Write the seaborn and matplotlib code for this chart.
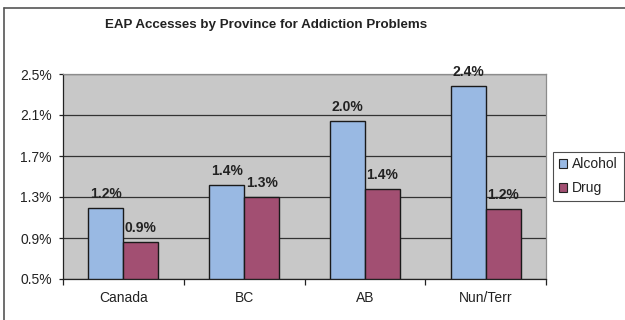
import matplotlib
matplotlib.use("Agg")
import matplotlib.pyplot as plt
import seaborn as sns
import pandas as pd
import numpy as np
from matplotlib.lines import Line2D
from matplotlib.patches import Patch
from matplotlib.ticker import FixedLocator, FuncFormatter

# Share of EAP accesses for addiction problems, by province (percent)
provinces = ["Canada", "BC", "AB", "Nun/Terr"]
alcohol = [1.19, 1.42, 2.04, 2.38]
drug = [0.86, 1.30, 1.38, 1.18]
series = ["Alcohol", "Drug"]
y_ticks = [0.5, 0.9, 1.3, 1.7, 2.1, 2.5]

colors = {"Alcohol": "#99B9E3", "Drug": "#A24F72"}

df = pd.DataFrame({
    "Province": provinces * 2,
    "Type": ["Alcohol"] * len(provinces) + ["Drug"] * len(provinces),
    "Share": alcohol + drug,
})

sns.set_style("white")
plt.rcParams["font.family"] = ["Liberation Sans", "DejaVu Sans"]

fig = plt.figure(figsize=(6.25, 3.2), dpi=100)
ax = fig.add_axes([63 / 625, 41 / 320, 483 / 625, 205 / 320])
ax.set_facecolor("#C8C8C8")

sns.barplot(data=df, x="Province", y="Share", hue="Type", order=provinces,
            hue_order=series, palette=colors, saturation=1, width=0.58,
            gap=0, edgecolor="#1a1a1a", linewidth=1.0, legend=False, ax=ax,
            zorder=3)

# bars rise from the bottom of the value axis
for p in ax.patches:
    h = p.get_height()
    p.set_y(y_ticks[0])
    p.set_height(h - y_ticks[0])

ax.set_ylim(y_ticks[0], y_ticks[-1])
ax.set_xlim(-0.5, len(provinces) - 0.5)
ax.yaxis.set_major_locator(FixedLocator(y_ticks))
ax.yaxis.set_major_formatter(FuncFormatter(lambda v, _: f"{v:.1f}%"))
ax.grid(axis="y", color="#333333", linewidth=0.9, zorder=1)
ax.set_axisbelow(True)
ax.set_xlabel("")
ax.set_ylabel("")

# value labels above each bar
for p, v in zip(ax.patches, alcohol + drug):
    ax.annotate(f"{v:.1f}%", (p.get_x() + p.get_width() / 2, v),
                xytext=(0, 5), textcoords="offset points",
                ha="center", va="bottom", fontsize=10, fontweight="bold",
                color="#222222", zorder=5)

# category boundary ticks
ax.set_xticks(range(len(provinces)))
ax.set_xticklabels(provinces, fontsize=10, color="#222222")
ax.xaxis.set_minor_locator(FixedLocator(np.arange(-0.5, len(provinces), 1.0)))
ax.tick_params(axis="x", which="major", length=0, pad=9)
ax.tick_params(axis="x", which="minor", length=4, width=0.9, color="#222222",
               direction="out", bottom=True)
ax.tick_params(axis="y", length=3, width=0.9, color="#222222",
               direction="out", left=True, labelsize=10, labelcolor="#222222",
               pad=5)

for side in ["left", "bottom"]:
    ax.spines[side].set_color("#222222")
    ax.spines[side].set_linewidth(0.9)
for side in ["top", "right"]:
    ax.spines[side].set_color("#8c8c8c")
    ax.spines[side].set_linewidth(0.9)

fig.text(0.426, 1 - 25 / 320, "EAP Accesses by Province for Addiction Problems",
         ha="center", va="center", fontsize=9.6, fontweight="bold",
         color="#222222")

handles = [Patch(facecolor=colors[s], edgecolor="#222222", linewidth=0.8)
           for s in series]
leg = fig.legend(handles, series, loc="upper left",
                 bbox_to_anchor=(553 / 625, 1 - 151.5 / 320),
                 fontsize=10, frameon=True, fancybox=False,
                 handlelength=0.6, handleheight=0.6, handletextpad=0.36,
                 borderpad=0.42, labelspacing=0.72, borderaxespad=0)
leg.get_frame().set_edgecolor("#222222")
leg.get_frame().set_linewidth(0.8)
for t in leg.get_texts():
    t.set_color("#222222")

# outer chart frame (left and top edges)
fig.add_artist(Line2D([4 / 625, 4 / 625], [0, 1 - 8 / 320],
                      transform=fig.transFigure, color="#555555", lw=1.2))
fig.add_artist(Line2D([4 / 625, 1], [1 - 8 / 320, 1 - 8 / 320],
                      transform=fig.transFigure, color="#555555", lw=1.2))

fig.savefig("out.png", dpi=100, facecolor="white")
